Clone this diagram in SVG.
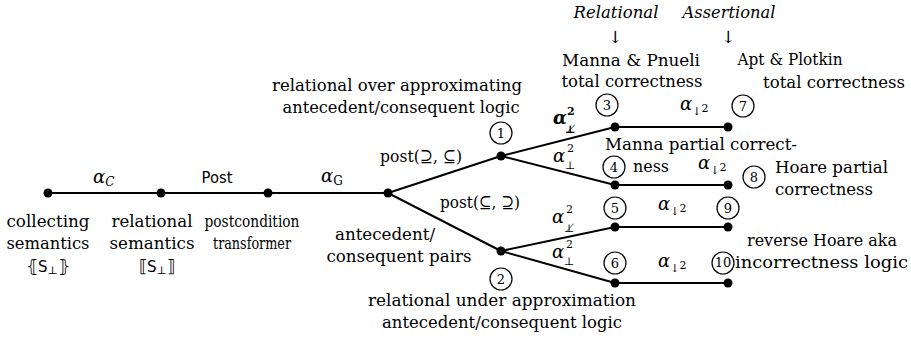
<svg xmlns="http://www.w3.org/2000/svg" width="911" height="341" viewBox="0 0 911 341" font-family="'DejaVu Serif', serif">
<style>
.t{font-family:'DejaVu Serif','Liberation Serif',serif;font-size:17px;fill:#000}
.m{text-anchor:middle}
.it{font-style:italic}
.sans{font-family:'DejaVu Sans',sans-serif;font-size:15px}
.mi{font-style:italic;font-size:18px;font-weight:normal}
.s{font-size:11px;font-style:normal}
.cn{font-family:'DejaVu Serif',serif;font-size:13px;text-anchor:middle}
.ln{stroke:#000;stroke-width:2;fill:none}
.dot{fill:#000}
.circ{fill:none;stroke:#000;stroke-width:1.2}
</style>
<rect width="911" height="341" fill="#fff"/>
<g id="connectors">
<line class="ln" x1="48" y1="193" x2="388" y2="193"/>
<line class="ln" x1="388" y1="193" x2="501" y2="156"/>
<line class="ln" x1="388" y1="193" x2="501" y2="251"/>
<line class="ln" x1="501" y1="156" x2="615" y2="127"/>
<line class="ln" x1="501" y1="156" x2="615" y2="185"/>
<line class="ln" x1="501" y1="251" x2="615" y2="227"/>
<line class="ln" x1="501" y1="251" x2="615" y2="283"/>
<line class="ln" x1="615" y1="127" x2="728" y2="127"/>
<line class="ln" x1="615" y1="185" x2="728" y2="185"/>
<line class="ln" x1="615" y1="227" x2="728" y2="227"/>
<line class="ln" x1="615" y1="283" x2="728" y2="283"/>
</g>
<g id="edge-labels">
<text x="93" y="183" class="t mi">α<tspan font-size="12px" dy="3">C</tspan></text>
<text x="217" y="183" class="t sans m" textLength="31" lengthAdjust="spacingAndGlyphs">Post</text>
<text x="321" y="182" class="t mi">α<tspan font-style="normal" font-size="12px" dy="3">G</tspan></text>
<text x="421" y="162" class="t m" textLength="82" lengthAdjust="spacingAndGlyphs">post(⊇, ⊆)</text>
<text x="480" y="208" class="t m" textLength="80" lengthAdjust="spacingAndGlyphs">post(⊆, ⊇)</text>
<text class="t mi" font-weight="bold" style="font-weight:bold"><tspan x="553" y="124">α</tspan><tspan x="567" y="115" class="s">2</tspan><tspan x="565" y="133" class="s" font-size="12px">⊥̸</tspan></text>
<text class="t mi"><tspan x="553" y="162">α</tspan><tspan x="567" y="152" class="s">2</tspan><tspan x="565" y="169" class="s">⊥</tspan></text>
<text class="t mi"><tspan x="552" y="223">α</tspan><tspan x="566" y="213" class="s">2</tspan><tspan x="564" y="232" class="s" font-size="12px">⊥̸</tspan></text>
<text class="t mi"><tspan x="552" y="258">α</tspan><tspan x="566" y="248" class="s">2</tspan><tspan x="564" y="265" class="s">⊥</tspan></text>
<text x="680" y="110" class="t mi">α<tspan class="s" font-size="10px" dy="5">↓</tspan><tspan class="s" dy="-3">2</tspan></text>
<text x="698" y="169" class="t mi">α<tspan class="s" font-size="10px" dy="5">↓</tspan><tspan class="s" dy="-3">2</tspan></text>
<text x="658" y="210" class="t mi">α<tspan class="s" font-size="10px" dy="5">↓</tspan><tspan class="s" dy="-3">2</tspan></text>
<text x="658" y="267" class="t mi">α<tspan class="s" font-size="10px" dy="5">↓</tspan><tspan class="s" dy="-3">2</tspan></text>
</g>
<g id="n-collecting"><circle class="dot" cx="48" cy="193" r="4.5"/>
<text x="48" y="227" class="t m" textLength="83" lengthAdjust="spacingAndGlyphs">collecting</text>
<text x="48" y="249" class="t m" textLength="83" lengthAdjust="spacingAndGlyphs">semantics</text>
<text x="48" y="272" class="t m">⦃<tspan class="sans" font-size="16px">S</tspan><tspan font-size="11px" dy="2">⊥</tspan><tspan dy="-2">⦄</tspan></text></g>
<g id="n-relational"><circle class="dot" cx="161" cy="193" r="4.5"/>
<text x="152" y="227" class="t m" textLength="81" lengthAdjust="spacingAndGlyphs">relational</text>
<text x="152" y="249" class="t m" textLength="85" lengthAdjust="spacingAndGlyphs">semantics</text>
<text x="157" y="272" class="t m">⟦<tspan class="sans" font-size="16px">S</tspan><tspan font-size="11px" dy="2">⊥</tspan><tspan dy="-2">⟧</tspan></text></g>
<g id="n-post"><circle class="dot" cx="268" cy="193" r="4.5"/>
<text x="252" y="227" class="t m" textLength="95" lengthAdjust="spacingAndGlyphs">postcondition</text>
<text x="252" y="249" class="t m" textLength="78" lengthAdjust="spacingAndGlyphs">transformer</text></g>
<g id="n-pairs"><circle class="dot" cx="388" cy="193" r="4.5"/>
<text x="385" y="240" class="t m" textLength="100" lengthAdjust="spacingAndGlyphs">antecedent/</text>
<text x="399" y="262" class="t m" textLength="145" lengthAdjust="spacingAndGlyphs">consequent pairs</text></g>
<g id="n1"><circle class="dot" cx="501" cy="156" r="4.5"/><circle class="circ" cx="501" cy="133" r="11"/><text x="501" y="138" class="cn">1</text>
<text x="397" y="91" class="t m" textLength="250" lengthAdjust="spacingAndGlyphs">relational over approximating</text>
<text x="401" y="113" class="t m" textLength="237" lengthAdjust="spacingAndGlyphs">antecedent/consequent logic</text></g>
<g id="n2"><circle class="dot" cx="501" cy="251" r="4.5"/><circle class="circ" cx="501" cy="279" r="11"/><text x="501" y="284" class="cn">2</text>
<text x="502" y="306" class="t m" textLength="268" lengthAdjust="spacingAndGlyphs">relational under approximation</text>
<text x="502" y="328" class="t m" textLength="240" lengthAdjust="spacingAndGlyphs">antecedent/consequent logic</text></g>
<g id="n3"><circle class="dot" cx="615" cy="127" r="4.5"/><circle class="circ" cx="607" cy="105" r="11"/><text x="607" y="110" class="cn">3</text>
<text x="616" y="18" class="t m it" textLength="85" lengthAdjust="spacingAndGlyphs">Relational</text><text x="615" y="43" class="t m">↓</text>
<text x="631" y="66" class="t m" textLength="138" lengthAdjust="spacingAndGlyphs">Manna &amp; Pnueli</text>
<text x="632" y="87" class="t m" textLength="141" lengthAdjust="spacingAndGlyphs">total correctness</text></g>
<g id="n7"><circle class="dot" cx="728" cy="127" r="4.5"/><circle class="circ" cx="743" cy="106" r="11"/><text x="743" y="111" class="cn">7</text>
<text x="729" y="18" class="t m it" textLength="93" lengthAdjust="spacingAndGlyphs">Assertional</text><text x="728" y="43" class="t m">↓</text>
<text x="790" y="65" class="t m" textLength="105" lengthAdjust="spacingAndGlyphs">Apt &amp; Plotkin</text>
<text x="834" y="88" class="t m" textLength="142" lengthAdjust="spacingAndGlyphs">total correctness</text></g>
<g id="n4"><circle class="dot" cx="615" cy="185" r="4.5"/><circle class="circ" cx="614" cy="167" r="11"/><text x="614" y="172" class="cn">4</text>
<text x="605" y="150" class="t" textLength="192" lengthAdjust="spacingAndGlyphs">Manna partial correct-</text>
<text x="633" y="172" class="t" textLength="36" lengthAdjust="spacingAndGlyphs">ness</text></g>
<g id="n8"><circle class="dot" cx="728" cy="185" r="4.5"/><circle class="circ" cx="754" cy="177" r="11"/><text x="754" y="182" class="cn">8</text>
<text x="775" y="173" class="t" textLength="113" lengthAdjust="spacingAndGlyphs">Hoare partial</text>
<text x="775" y="195" class="t" textLength="98" lengthAdjust="spacingAndGlyphs">correctness</text></g>
<g id="n5"><circle class="dot" cx="615" cy="227" r="4.5"/><circle class="circ" cx="615" cy="208" r="11"/><text x="615" y="213" class="cn">5</text></g>
<g id="n9"><circle class="dot" cx="728" cy="227" r="4.5"/><circle class="circ" cx="728" cy="208" r="11"/><text x="728" y="213" class="cn">9</text></g>
<g id="n6"><circle class="dot" cx="615" cy="283" r="4.5"/><circle class="circ" cx="615" cy="263" r="11"/><text x="615" y="268" class="cn">6</text></g>
<g id="n10"><circle class="dot" cx="728" cy="283" r="4.5"/><circle class="circ" cx="723" cy="263" r="11"/><text x="723" y="267" class="cn" font-size="11px">10</text>
<text x="747" y="246" class="t" textLength="150" lengthAdjust="spacingAndGlyphs">reverse Hoare aka</text>
<text x="735" y="268" class="t" textLength="173" lengthAdjust="spacingAndGlyphs">incorrectness logic</text></g>
</svg>
